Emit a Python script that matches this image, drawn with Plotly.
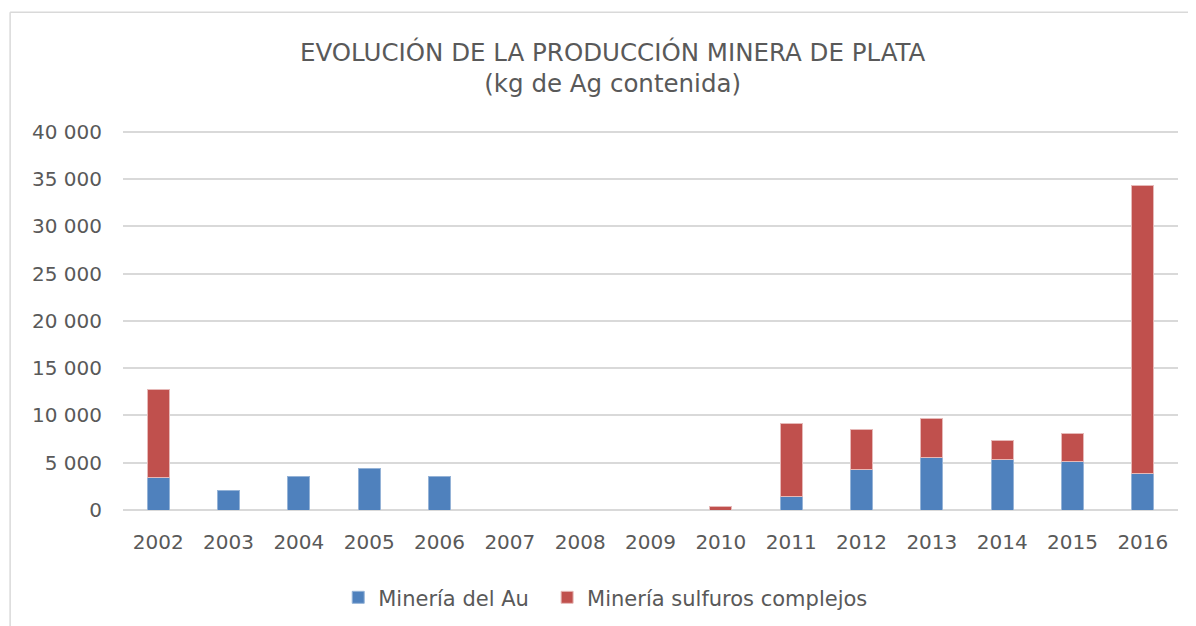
import plotly.graph_objects as go

years = ["2002", "2003", "2004", "2005", "2006", "2007", "2008", "2009",
         "2010", "2011", "2012", "2013", "2014", "2015", "2016"]
mineria_au = [3400, 2100, 3550, 4400, 3550, None, None, None,
              None, 1400, 4290, 5530, 5320, 5100, 3900]
mineria_sulfuros = [9350, None, None, None, None, None, None, None,
                    330, 7700, 4180, 4150, 2050, 2990, 30450]
y_ticks = [0, 5000, 10000, 15000, 20000, 25000, 30000, 35000, 40000]
y_labels = ["0", "5 000", "10 000", "15 000", "20 000", "25 000", "30 000", "35 000", "40 000"]

font_name = "DejaVu Sans"
grey = "#595959"

fig = go.Figure()
fig.add_trace(go.Bar(x=years, y=mineria_au, name="Minería del Au", legend="legend",
                     marker=dict(color="#4F81BD", line=dict(color="#95B3D7", width=1))))
fig.add_trace(go.Bar(x=years, y=mineria_sulfuros, name="Minería sulfuros complejos", legend="legend2",
                     marker=dict(color="#C0504D", line=dict(color="#E6B9B8", width=1))))

legend_style = dict(orientation="h", xanchor="left", yref="container", y=0.079, yanchor="top",
                    font=dict(size=21, color=grey), bgcolor="rgba(0,0,0,0)")

fig.update_layout(
    barmode="stack",
    bargap=0.69,
    width=1188, height=618,
    margin=dict(l=115, r=18, t=122, b=116, autoexpand=False),
    plot_bgcolor="white", paper_bgcolor="white",
    font=dict(family=font_name, size=20, color=grey),
    title=dict(text="EVOLUCIÓN DE LA PRODUCCIÓN MINERA DE PLATA<br>(kg de Ag contenida)",
               x=0.509, xanchor="center", y=0.915, yanchor="top",
               font=dict(family=font_name, size=24.5, color=grey)),
    legend=dict(x=0.204, **legend_style),
    legend2=dict(x=0.402, **legend_style),
    showlegend=True,
)
fig.update_xaxes(showgrid=False, ticks="", showline=False, tickfont=dict(size=20),
                 ticklabelstandoff=18, automargin=False)
fig.update_yaxes(range=[0, 40200], tickvals=y_ticks, ticktext=y_labels,
                 showgrid=True, gridcolor="#D9D9D9", gridwidth=1.5,
                 zeroline=True, zerolinecolor="#D9D9D9", zerolinewidth=1.5,
                 ticks="", tickfont=dict(size=20), ticklabelstandoff=20, automargin=False)

# chart area frame
fig.add_shape(type="line", xref="paper", yref="paper", x0=-0.107, x1=-0.107, y0=-0.4, y1=1.31,
              line=dict(color="#D9D9D9", width=1.5))
fig.add_shape(type="line", xref="paper", yref="paper", x0=-0.107, x1=1.1, y0=1.31, y1=1.31,
              line=dict(color="#D9D9D9", width=1.5))

fig.write_html("out.html")
